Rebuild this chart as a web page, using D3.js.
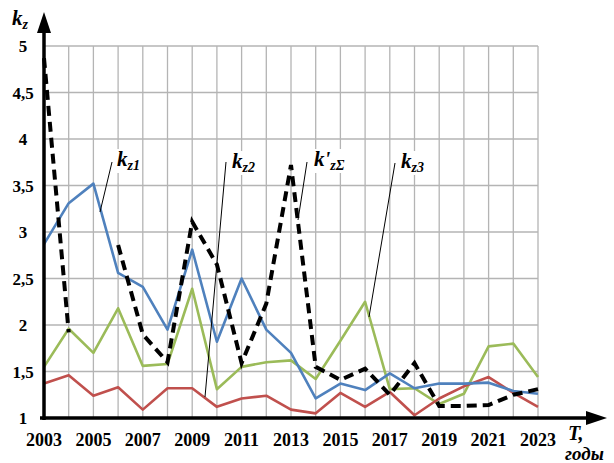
<!DOCTYPE html>
<html><head><meta charset="utf-8">
<script src="https://cdn.jsdelivr.net/npm/d3@7"></script>
<style>body{margin:0;background:#fff}svg{display:block}
svg text{font-family:"Liberation Serif","Times New Roman","DejaVu Serif",serif;font-weight:bold}
</style>
</head><body>
<svg id="c" width="614" height="463"></svg>
<script>
const years = d3.range(2003, 2024);
const kz1 = [2.87,3.31,3.52,2.56,2.41,1.95,2.81,1.82,2.50,1.95,1.70,1.21,1.37,1.30,1.48,1.32,1.37,1.37,1.38,1.29,1.26];
const kz2 = [1.37,1.46,1.24,1.33,1.09,1.32,1.32,1.12,1.21,1.24,1.09,1.05,1.27,1.12,1.28,1.03,1.21,1.34,1.44,1.27,1.12];
const kz3 = [1.55,1.96,1.70,2.18,1.56,1.58,2.39,1.31,1.55,1.60,1.62,1.42,1.83,2.25,1.31,1.32,1.15,1.26,1.77,1.80,1.44];
const kzSum = [4.87,1.92,null,2.86,1.90,1.60,3.11,2.65,1.59,2.23,3.72,1.55,1.41,1.53,1.25,1.59,1.13,1.13,1.14,1.25,1.31];
const xTicks = d3.range(2003, 2024, 2);
const yTicks = [1,1.5,2,2.5,3,3.5,4,4.5,5];
const yGrid = [1.5,2,2.5,3,3.5,4,4.5,5];
const seriesLabels = [
  {sub:"z1", prime:false, x:117, y:166, lx1:112, ly1:162, lx2:100, ly2:212},
  {sub:"z2", prime:false, x:232, y:168, lx1:226, ly1:162, lx2:205, ly2:397},
  {sub:"zΣ", prime:true,  x:314, y:166, lx1:307, ly1:162, lx2:298, ly2:220},
  {sub:"z3", prime:false, x:401, y:168, lx1:395, ly1:163, lx2:369, ly2:317}
];

const svg = d3.select("#c");
const x = d3.scaleLinear().domain([2003,2023]).range([44,538]);
const y = d3.scaleLinear().domain([1,5]).range([418,46]);

// grid
const g = svg.append("g");
g.selectAll("line.v").data(years.slice(1)).join("line")
  .attr("x1",d=>x(d)).attr("x2",d=>x(d)).attr("y1",y(1)).attr("y2",y(5))
  .attr("stroke","#b4b4b4").attr("stroke-width",1.3);
g.selectAll("line.h").data(yGrid).join("line")
  .attr("x1",x(2003)).attr("x2",x(2023)).attr("y1",d=>y(d)).attr("y2",d=>y(d))
  .attr("stroke","#b4b4b4").attr("stroke-width",1.3);

// series
const line = d3.line().defined(d=>d[1]!=null).x(d=>x(d[0])).y(d=>y(d[1]));
const mk = arr => years.map((yr,i)=>[yr,arr[i]]);
svg.append("path").datum(mk(kz3)).attr("d",line).attr("fill","none").attr("stroke","#9bbb59").attr("stroke-width",2.6).attr("stroke-linejoin","round");
svg.append("path").datum(mk(kz2)).attr("d",line).attr("fill","none").attr("stroke","#c0504d").attr("stroke-width",2.6).attr("stroke-linejoin","round");
svg.append("path").datum(mk(kz1)).attr("d",line).attr("fill","none").attr("stroke","#4f81bd").attr("stroke-width",2.6).attr("stroke-linejoin","round");
svg.append("path").datum(mk(kzSum)).attr("d",line).attr("fill","none").attr("stroke","#000").attr("stroke-width",4).attr("stroke-dasharray","10,6");

// axes
svg.append("line").attr("x1",x(2003)).attr("x2",x(2003)).attr("y1",y(1)+2).attr("y2",28).attr("stroke","#000").attr("stroke-width",3.5);
svg.append("path").attr("d","M44,12 L37,33 L51,33 Z").attr("fill","#000");
svg.append("line").attr("x1",x(2003)-4).attr("x2",590).attr("y1",y(1)).attr("y2",y(1)).attr("stroke","#000").attr("stroke-width",3.5);
svg.append("path").attr("d","M607,418 L586,411 L586,425 Z").attr("fill","#000");

// tick labels
svg.selectAll("text.xt").data(xTicks).join("text")
  .attr("x",d=>x(d)).attr("y",446).attr("text-anchor","middle")
  .attr("font-size",18).text(d=>d);
svg.selectAll("text.yt").data(yTicks).join("text")
  .attr("x",23).attr("y",d=>y(d)+6).attr("text-anchor","middle")
  .attr("font-size",17)
  .text(d=>String(d).replace(".",","));

// axis titles
const ty = svg.append("text").attr("x",12).attr("y",25).attr("font-style","italic").attr("font-size",21);
ty.append("tspan").text("k");
ty.append("tspan").attr("font-size",14).attr("dy",4).text("z");
svg.append("text").attr("x",568).attr("y",440).attr("font-style","italic").attr("font-size",20).text("T,");
svg.append("text").attr("x",565).attr("y",460).attr("font-style","italic").attr("font-size",19).text("годы");

// series labels with leader lines
seriesLabels.forEach(s=>{
  svg.append("line").attr("x1",s.lx1).attr("y1",s.ly1).attr("x2",s.lx2).attr("y2",s.ly2).attr("stroke","#000").attr("stroke-width",1);
  const t = svg.append("text").attr("x",s.x).attr("y",s.y).attr("font-style","italic").attr("font-size",21);
  t.append("tspan").text(s.prime ? "k'" : "k");
  t.append("tspan").attr("font-size",14).attr("dy",4).text(s.sub);
  const bb = t.node().getBBox();
  svg.insert("rect", "text").attr("x",bb.x-1).attr("y",bb.y+2).attr("width",bb.width+3).attr("height",bb.height-2).attr("fill","#fff");
});
</script>
</body></html>
